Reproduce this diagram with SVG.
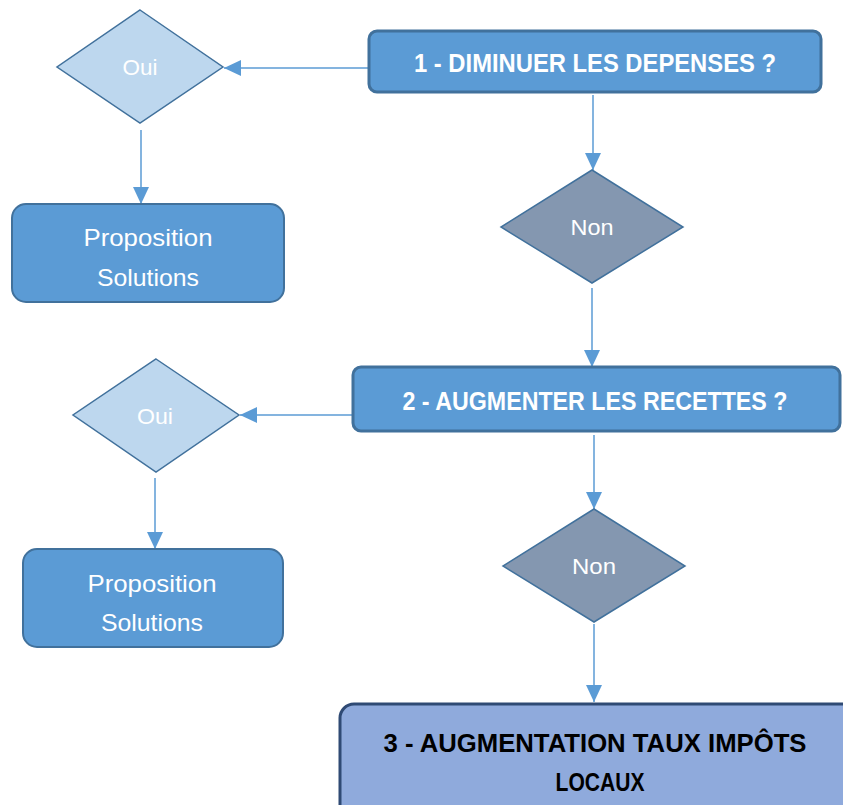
<svg xmlns="http://www.w3.org/2000/svg" width="843" height="805" viewBox="0 0 843 805">
<style>
.box{fill:#5B9BD5;stroke:#41719C;stroke-width:3}
.pbox{fill:#5B9BD5;stroke:#41719C;stroke-width:2}
.oui{fill:#BDD7EE;stroke:#41719C;stroke-width:1.5}
.non{fill:#8497B0;stroke:#41719C;stroke-width:1.5}
.fin{fill:#8FAADC;stroke:#2F4A74;stroke-width:3}
.t{font-family:"Liberation Sans",Arial,sans-serif}
.tb{font-family:"Liberation Sans",Arial,sans-serif;font-weight:bold;font-size:25px;fill:#FFFFFF}
.tr{font-size:24px;fill:#FFFFFF}
.td{font-size:22px;fill:#FFFFFF}
.tk{font-family:"Liberation Sans",Arial,sans-serif;font-weight:bold;font-size:26px;fill:#000000}
.c{stroke:#5B9BD5;stroke-width:1.5;fill:none;marker-end:url(#ah)}
</style>
<defs>
<marker id="ah" markerUnits="userSpaceOnUse" markerWidth="18" markerHeight="16" refX="17" refY="8" orient="auto">
<path d="M0,0 L17,8 L0,16 Z" fill="#5B9BD5"/>
</marker>
</defs>
<g id="connectors">
<line class="c" x1="369" y1="68" x2="224" y2="68"/>
<line class="c" x1="141" y1="130" x2="141" y2="204"/>
<line class="c" x1="593" y1="95" x2="593" y2="170"/>
<line class="c" x1="592" y1="288" x2="592" y2="367"/>
<line class="c" x1="353" y1="415" x2="240" y2="415"/>
<line class="c" x1="155" y1="478" x2="155" y2="549"/>
<line class="c" x1="594" y1="435" x2="594" y2="509"/>
<line class="c" x1="594" y1="624" x2="594" y2="702"/>
</g>
<g id="box1">
<rect class="box" x="369" y="31" width="452" height="61" rx="8"/>
<text class="tb" x="595" y="72" text-anchor="middle" textLength="362" lengthAdjust="spacingAndGlyphs">1 - DIMINUER LES DEPENSES ?</text>
</g>
<g id="oui1">
<polygon class="oui" points="140,10 223,67 140,123 57,67"/>
<text class="t td" x="140" y="75" text-anchor="middle" textLength="35" lengthAdjust="spacingAndGlyphs">Oui</text>
</g>
<g id="prop1">
<rect class="pbox" x="12" y="204" width="272" height="98" rx="14"/>
<text class="t tr" x="148" y="246" text-anchor="middle" textLength="129" lengthAdjust="spacingAndGlyphs">Proposition</text>
<text class="t tr" x="148" y="286" text-anchor="middle" textLength="102" lengthAdjust="spacingAndGlyphs">Solutions</text>
</g>
<g id="non1">
<polygon class="non" points="592,170 683,227 592,283 501,227"/>
<text class="t td" x="592" y="235" text-anchor="middle" textLength="43" lengthAdjust="spacingAndGlyphs">Non</text>
</g>
<g id="box2">
<rect class="box" x="353" y="367" width="487" height="64" rx="8"/>
<text class="tb" x="595" y="410" text-anchor="middle" textLength="385" lengthAdjust="spacingAndGlyphs">2 - AUGMENTER LES RECETTES ?</text>
</g>
<g id="oui2">
<polygon class="oui" points="156,359 239,415 156,472 73,415"/>
<text class="t td" x="155" y="424" text-anchor="middle" textLength="36" lengthAdjust="spacingAndGlyphs">Oui</text>
</g>
<g id="prop2">
<rect class="pbox" x="23" y="549" width="260" height="98" rx="14"/>
<text class="t tr" x="152" y="592" text-anchor="middle" textLength="129" lengthAdjust="spacingAndGlyphs">Proposition</text>
<text class="t tr" x="152" y="631" text-anchor="middle" textLength="102" lengthAdjust="spacingAndGlyphs">Solutions</text>
</g>
<g id="non2">
<polygon class="non" points="594,509 685,566 594,622 503,566"/>
<text class="t td" x="594" y="574" text-anchor="middle" textLength="44" lengthAdjust="spacingAndGlyphs">Non</text>
</g>
<g id="box3">
<rect class="fin" x="340" y="704" width="520" height="120" rx="14"/>
<text class="tk" x="595" y="752" text-anchor="middle" textLength="423" lengthAdjust="spacingAndGlyphs">3 - AUGMENTATION TAUX IMPÔTS</text>
<text class="tk" x="600" y="791" text-anchor="middle" textLength="89" lengthAdjust="spacingAndGlyphs">LOCAUX</text>
</g>
</svg>
